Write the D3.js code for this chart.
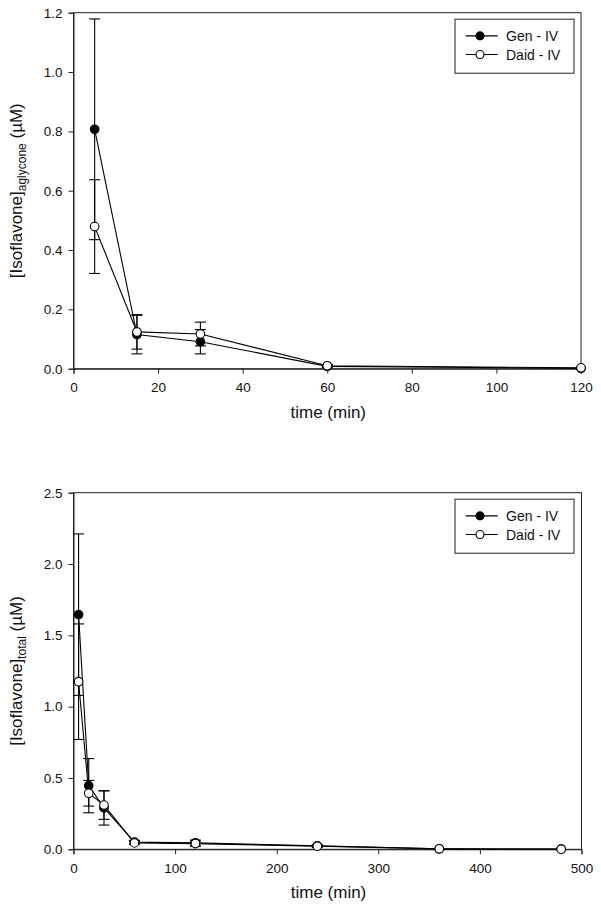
<!DOCTYPE html>
<html>
<head>
<meta charset="utf-8">
<script src="https://cdn.jsdelivr.net/npm/d3@7"></script>
<style>
  html, body { margin: 0; padding: 0; background: #fff; }
  svg { display: block; font-family: "Liberation Sans", Arial, sans-serif; }
</style>
</head>
<body>
<svg id="chart" width="601" height="917"></svg>
<script>
// ---- Data: top panel (aglycone) ----
const timeAgly = [5, 15, 30, 60, 120];
const genAgly = [0.807, 0.115, 0.091, 0.008, 0.001];
const genAglyErr = [0.372, 0.065, 0.041, 0.004, 0];
const daidAgly = [0.479, 0.124, 0.117, 0.010, 0.003];
const daidAglyErr = [0.158, 0.058, 0.040, 0.004, 0];
const aglyXTicks = [0, 20, 40, 60, 80, 100, 120];
const aglyYTicks = [0.0, 0.2, 0.4, 0.6, 0.8, 1.0, 1.2];

// ---- Data: bottom panel (total) ----
const timeTotal = [5, 15, 30, 60, 120, 240, 360, 480];
const genTotal = [1.645, 0.446, 0.290, 0.050, 0.045, 0.024, 0.004, 0.001];
const genTotalErr = [0.566, 0.19, 0.12, 0.012, 0.02, 0.008, 0.002, 0];
const daidTotal = [1.175, 0.393, 0.310, 0.045, 0.040, 0.022, 0.003, 0.001];
const daidTotalErr = [0.405, 0.09, 0.10, 0.010, 0.018, 0.008, 0.002, 0];
const totalXTicks = [0, 100, 200, 300, 400, 500];
const totalYTicks = [0.0, 0.5, 1.0, 1.5, 2.0, 2.5];

const seriesNames = ["Gen - IV", "Daid - IV"];

const svg = d3.select("#chart");

function panel(cfg) {
  const g = svg.append("g");
  const x = d3.scaleLinear().domain(cfg.xDomain).range([cfg.left, cfg.right]);
  const y = d3.scaleLinear().domain(cfg.yDomain).range([cfg.bottom, cfg.top]);

  // frame
  g.append("rect")
    .attr("x", cfg.left).attr("y", cfg.top)
    .attr("width", cfg.right - cfg.left).attr("height", cfg.bottom - cfg.top)
    .attr("fill", "none").attr("stroke", "#222").attr("stroke-width", 1);

  // axes
  const xAxis = d3.axisBottom(x).tickValues(cfg.xTicks).tickSize(5).tickPadding(9)
    .tickFormat(d3.format("d"));
  const yAxis = d3.axisLeft(y).tickValues(cfg.yTicks).tickSize(5).tickPadding(6)
    .tickFormat(d3.format(".1f"));
  const gx = g.append("g").attr("transform", `translate(0,${cfg.bottom})`).call(xAxis);
  const gy = g.append("g").attr("transform", `translate(${cfg.left},0)`).call(yAxis);
  [gx, gy].forEach(a => {
    a.select(".domain").attr("stroke", "#222");
    a.selectAll(".tick line").attr("stroke", "#222");
    a.selectAll(".tick text").attr("font-size", 13.5).attr("fill", "#111")
      .attr("font-family", "Liberation Sans, Arial, sans-serif");
  });

  // x title
  g.append("text")
    .attr("x", (cfg.left + cfg.right) / 2 + 1)
    .attr("y", cfg.bottom + 49)
    .attr("text-anchor", "middle")
    .attr("font-size", 17).attr("fill", "#111")
    .text("time (min)");

  // y title with subscript
  const cy = (cfg.top + cfg.bottom) / 2;
  const yt = g.append("text")
    .attr("transform", `translate(22,${cy}) rotate(-90)`)
    .attr("text-anchor", "middle")
    .attr("font-size", 17).attr("fill", "#111");
  yt.append("tspan").text("[Isoflavone]");
  yt.append("tspan").attr("font-size", 12).attr("dy", 4).text(cfg.sub);
  yt.append("tspan").attr("dy", -4).text(" (\u00B5M)");

  const series = [
    { name: seriesNames[0], t: cfg.t, v: cfg.gen, e: cfg.genErr, fill: "#000" },
    { name: seriesNames[1], t: cfg.t, v: cfg.daid, e: cfg.daidErr, fill: "#fff" }
  ];

  const line = d3.line().x(d => x(d[0])).y(d => y(d[1]));
  series.forEach(s => {
    const pts = s.t.map((t, i) => [t, s.v[i], s.e[i]]);
    g.append("path").datum(pts).attr("d", line)
      .attr("fill", "none").attr("stroke", "#000").attr("stroke-width", 1.1);
  });

  const capW = 5.5;
  series.forEach(s => {
    const pts = s.t.map((t, i) => [t, s.v[i], s.e[i]]).filter(d => d[2] > 0);
    const eg = g.append("g").attr("stroke", "#000").attr("stroke-width", 1.1);
    pts.forEach(d => {
      const px = x(d[0]), yTop = y(d[1] + d[2]), yBot = y(d[1] - d[2]);
      eg.append("line").attr("x1", px).attr("x2", px).attr("y1", yTop).attr("y2", yBot);
      eg.append("line").attr("x1", px - capW).attr("x2", px + capW).attr("y1", yTop).attr("y2", yTop);
      eg.append("line").attr("x1", px - capW).attr("x2", px + capW).attr("y1", yBot).attr("y2", yBot);
    });
  });

  series.forEach(s => {
    g.append("g").selectAll("circle")
      .data(s.t.map((t, i) => [t, s.v[i]]))
      .join("circle")
      .attr("cx", d => x(d[0])).attr("cy", d => y(d[1])).attr("r", 4.3)
      .attr("fill", s.fill).attr("stroke", "#000").attr("stroke-width", 1.1);
  });

  // legend
  const lx = 455, ly = cfg.top + 6.5;
  g.append("rect").attr("x", lx).attr("y", ly).attr("width", 119).attr("height", 54)
    .attr("fill", "#fff").attr("stroke", "#222").attr("stroke-width", 1);
  series.forEach((s, i) => {
    const yy = ly + 16.7 + i * 18.6;
    g.append("line").attr("x1", lx + 10.7).attr("x2", lx + 42.7).attr("y1", yy).attr("y2", yy)
      .attr("stroke", "#000").attr("stroke-width", 1.1);
    g.append("circle").attr("cx", lx + 25).attr("cy", yy).attr("r", 4)
      .attr("fill", s.fill).attr("stroke", "#000").attr("stroke-width", 1.1);
    g.append("text").attr("x", lx + 51).attr("y", yy + 5)
      .attr("font-size", 14).attr("fill", "#111").text(s.name);
  });
}

panel({
  left: 73.5, right: 581, top: 12.7, bottom: 368.7,
  xDomain: [0, 120], yDomain: [0, 1.2],
  xTicks: aglyXTicks, yTicks: aglyYTicks,
  t: timeAgly, gen: genAgly, genErr: genAglyErr, daid: daidAgly, daidErr: daidAglyErr,
  sub: "aglycone"
});

panel({
  left: 73.5, right: 581.5, top: 492.7, bottom: 849.3,
  xDomain: [0, 500], yDomain: [0, 2.5],
  xTicks: totalXTicks, yTicks: totalYTicks,
  t: timeTotal, gen: genTotal, genErr: genTotalErr, daid: daidTotal, daidErr: daidTotalErr,
  sub: "total"
});
</script>
</body>
</html>
